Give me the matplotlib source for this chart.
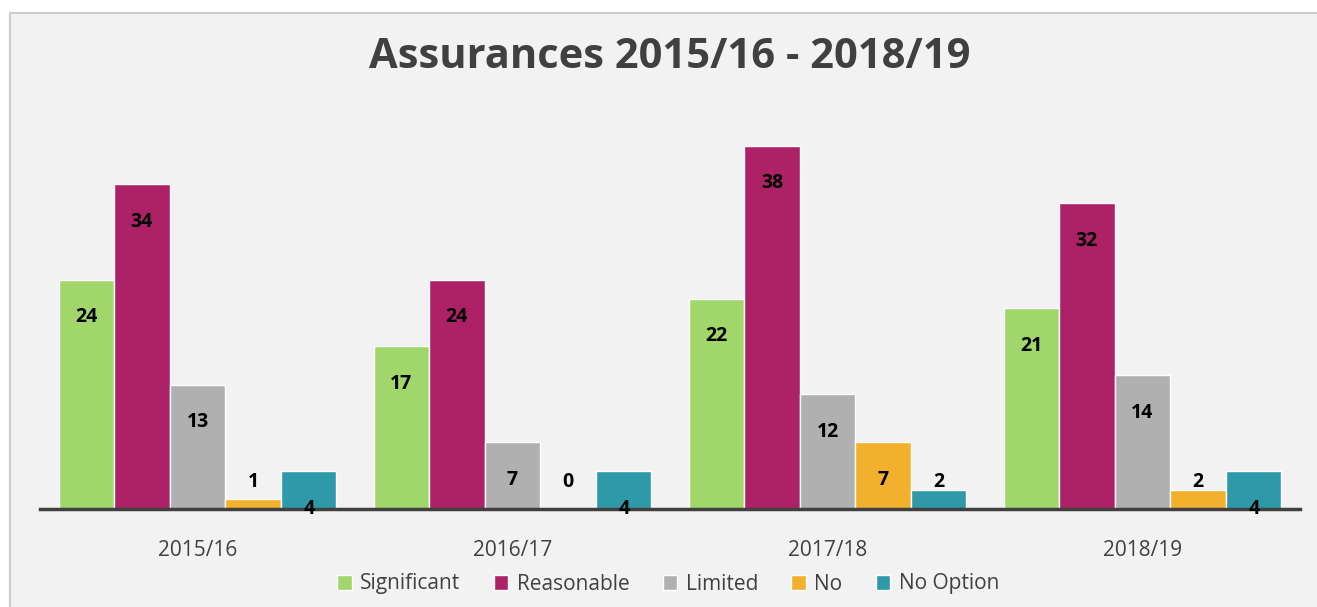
import numpy as np
import matplotlib.pyplot as plt
from matplotlib.patches import Rectangle
from matplotlib.lines import Line2D

years = ["2015/16", "2016/17", "2017/18", "2018/19"]
series = ["Significant", "Reasonable", "Limited", "No", "No Option"]
significant = [24, 17, 22, 21]
reasonable = [34, 24, 38, 32]
limited = [13, 7, 12, 14]
no = [1, 0, 7, 2]
no_option = [4, 4, 2, 4]
values = [significant, reasonable, limited, no, no_option]
colors = ["#a0d66a", "#ad2167", "#b0b0b0", "#f3b02d", "#2e99a8"]

plt.rcParams['font.family'] = ['Open Sans', 'DejaVu Sans']

fig = plt.figure(figsize=(13.17, 6.07), dpi=100, facecolor="white")

# grey panel behind the chart, border only on top and left
x0, y1 = 10 / 1317, 1 - 13 / 607
fig.patches.append(Rectangle((x0, 0), 1 - x0, y1, transform=fig.transFigure,
                             facecolor="#f2f2f2", edgecolor="none", zorder=-5))
fig.lines.append(Line2D([x0, x0, 1], [0, y1, y1], transform=fig.transFigure,
                        color="#cccccc", linewidth=1.5, zorder=-4))

ax = fig.add_axes([40 / 1317, (607 - 509) / 607, 1260 / 1317, 382.4 / 607])
ax.set_facecolor("none")
ax.set_zorder(2)

x = np.arange(len(years))
w = 0.1765
for i, (name, vals, c) in enumerate(zip(series, values, colors)):
    pos = x + (i - 2) * w
    ax.bar(pos, vals, w, color=c, edgecolor="white", linewidth=1, label=name, zorder=2)
    for px, v in zip(pos, vals):
        ly = v - 3.95 if v > 3 else 2.85
        ax.text(px, ly, str(v), ha="center", va="center", fontsize=14,
                fontweight="bold", color="black", zorder=4)

ax.set_xlim(-0.5, 3.5)
ax.set_ylim(0, 40)
ax.set_yticks([])
ax.set_xticks(x)
ax.set_xticklabels(years, fontsize=15, color="#404040")
ax.tick_params(axis="x", length=0, pad=22)
for s in ["top", "right", "left"]:
    ax.spines[s].set_visible(False)
ax.spines["bottom"].set_color("#404040")
ax.spines["bottom"].set_linewidth(2.5)
ax.spines["bottom"].set_zorder(3)

fig.text(670 / 1317, 1 - 58 / 607, "Assurances 2015/16 - 2018/19", ha="center",
         va="center", fontsize=30, fontweight="bold", color="#404040")

handles = [Rectangle((0, 0), 1, 1, facecolor=c, edgecolor="white") for c in colors]
fig.legend(handles, series, loc="center", bbox_to_anchor=(668 / 1317, 1 - 584 / 607),
           ncol=5, frameon=False, fontsize=15, handlelength=0.7, handleheight=0.7,
           handletextpad=0.4, columnspacing=1.6, labelcolor="#404040")

fig.savefig("out.png", dpi=100, facecolor="white")
